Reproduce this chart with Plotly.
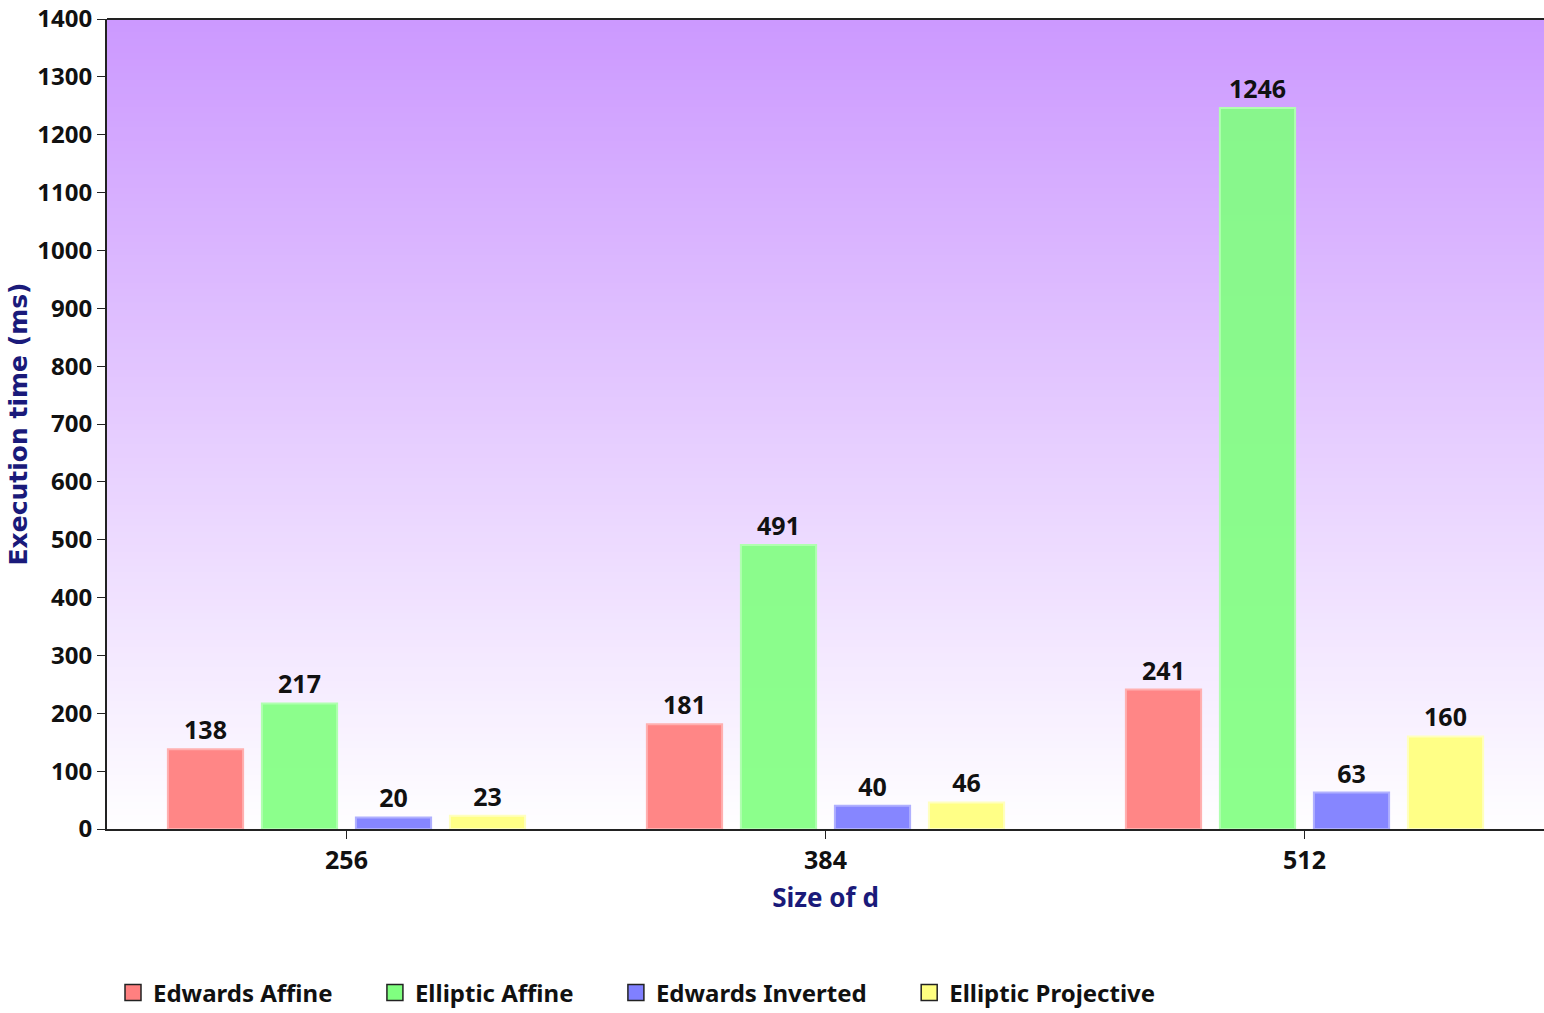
import plotly.graph_objects as go

categories = ["256", "384", "512"]
series_names = ["Edwards Affine", "Elliptic Affine", "Edwards Inverted", "Elliptic Projective"]
edwards_affine = [138, 181, 241]
elliptic_affine = [217, 491, 1246]
edwards_inverted = [20, 40, 63]
elliptic_projective = [23, 46, 160]
y_ticks = list(range(0, 1401, 100))

series_values = [edwards_affine, elliptic_affine, edwards_inverted, elliptic_projective]
fill_colors = ["rgba(255,128,128,0.95)", "rgba(128,255,128,0.9)", "rgba(128,128,255,0.95)", "rgba(255,255,128,0.95)"]
edge_colors = ["#ffb0b0", "#b0ffb0", "#b0b0ff", "#ffffc0"]
swatch_colors = ["#ff8080", "#80ff80", "#8080ff", "#ffff80"]

NARROW = "Noto Sans, Liberation Sans, sans-serif"
PAD = "\u00a0" * 6


def nfont(size, color="#111111"):
    d = dict(family=NARROW, size=size, color=color, weight="bold")
    try:
        go.layout.Font(stretch="condensed")
        d["stretch"] = "condensed"
    except Exception:
        pass
    return d


fig = go.Figure()
for name, vals, fc, ec in zip(series_names, series_values, fill_colors, edge_colors):
    fig.add_trace(go.Bar(
        x=categories, y=vals, name=name, showlegend=False,
        marker=dict(color=fc, line=dict(color=ec, width=2)),
        text=[str(v) for v in vals], textposition="outside",
        textfont=nfont(25),
        cliponaxis=False,
    ))

# legend-only entries with bordered square swatches
for i, (name, sc) in enumerate(zip(series_names, swatch_colors)):
    label = name + (PAD if i < len(series_names) - 1 else "")
    fig.add_trace(go.Scatter(
        x=[None], y=[None], mode="markers", name=label,
        marker=dict(symbol="square", size=16, color=sc, line=dict(color="#222222", width=1.5)),
    ))

# vertical gradient background for the plot area
n = 120
top = (204, 153, 255)
for i in range(n):
    f = i / n
    r = round(top[0] + (255 - top[0]) * f)
    g = round(top[1] + (255 - top[1]) * f)
    b = round(top[2] + (255 - top[2]) * f)
    fig.add_shape(type="rect", xref="paper", yref="paper",
                  x0=0, x1=1, y1=1 - i / n, y0=1 - (i + 1) / n - 0.001,
                  fillcolor=f"rgb({r},{g},{b})", line=dict(width=0), layer="below")

fig.update_layout(
    width=1544, height=1013,
    margin=dict(l=107, r=0, t=19, b=184),
    paper_bgcolor="white", plot_bgcolor="rgba(0,0,0,0)",
    barmode="group", bargap=0.215, bargroupgap=0.2,
    showlegend=True,
    legend=dict(orientation="h", xref="container", x=113 / 1544, xanchor="left",
                yref="container", y=20 / 1013, yanchor="middle",
                font=nfont(24), itemwidth=30, traceorder="normal"),
    xaxis=dict(
        type="category", range=[-0.5, 2.5],
        showline=True, linecolor="#222222", linewidth=2, mirror=False,
        ticks="outside", ticklen=8, tickcolor="#222222",
        tickfont=nfont(25),
        title=dict(text="Size of d", standoff=14, font=nfont(26, "#1a1a7a")),
        showgrid=False,
    ),
    yaxis=dict(
        range=[0, 1400], tickvals=y_ticks,
        showline=True, linecolor="#222222", linewidth=2,
        ticks="outside", ticklen=8, tickcolor="#222222",
        tickfont=nfont(24),
        title=dict(text="Execution time (ms)", standoff=3,
                   font=dict(family="DejaVu Sans, Verdana, sans-serif", size=25, color="#1a1a7a", weight="bold")),
        showgrid=False, zeroline=False,
    ),
)
fig.add_shape(type="line", xref="paper", yref="paper", x0=0, x1=1, y0=1, y1=1,
              line=dict(color="#222222", width=2))

fig.write_html("out.html")
